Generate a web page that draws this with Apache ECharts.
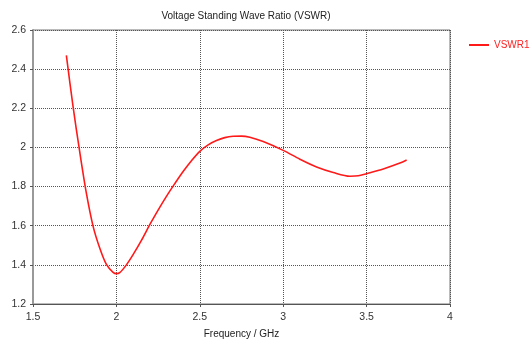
<!DOCTYPE html>
<html>
<head>
<meta charset="utf-8">
<script src="https://cdn.jsdelivr.net/npm/echarts@6/dist/echarts.min.js"></script>
<style>
  html, body { margin: 0; padding: 0; background: #fff; }
  #chart { width: 530px; height: 341px; }
</style>
</head>
<body>
<div id="chart"></div>
<script>
  // frequency (GHz) and VSWR
  var freq = [1.70, 1.74, 1.78, 1.82, 1.86, 1.90, 1.94, 1.98, 2.00, 2.02, 2.06, 2.10, 2.15, 2.20, 2.25, 2.30,
    2.35, 2.40, 2.45, 2.50, 2.55, 2.60, 2.65, 2.70, 2.75, 2.80, 2.88, 3.00, 3.10, 3.20, 3.30, 3.40, 3.45,
    3.50, 3.60, 3.70, 3.74];
  var vswr = [2.47, 2.21, 1.978, 1.766, 1.598, 1.486, 1.402, 1.362, 1.355, 1.36, 1.40, 1.452, 1.525, 1.605, 1.68, 1.75,
    1.815, 1.877, 1.932, 1.98, 2.013, 2.035, 2.05, 2.057, 2.058, 2.052, 2.03, 1.985, 1.94, 1.90, 1.872, 1.853, 1.855,
    1.866, 1.89, 1.92, 1.936];
  var seriesName = 'VSWR1';

  var chart = echarts.init(document.getElementById('chart'));
  var font = 'Liberation Sans';
  var option = {
    animation: false,
    title: {
      text: 'Voltage Standing Wave Ratio (VSWR)',
      left: 241, top: 6, textAlign: 'center',
      textStyle: { fontSize: 10, fontWeight: 'normal', color: '#222', fontFamily: font }
    },
    legend: {
      data: [seriesName],
      left: 463, top: 35,
      itemWidth: 20, itemHeight: 2,
      textStyle: { color: '#ff2020', fontSize: 10, fontFamily: font }
    },
    grid: {
      left: 33, right: 80, top: 30, bottom: 37,
      outerBoundsMode: 'none',
      show: true, borderColor: '#777', borderWidth: 1
    },
    xAxis: {
      type: 'value', min: 1.5, max: 4, interval: 0.5,
      name: 'Frequency / GHz', nameLocation: 'middle', nameGap: 25,
      nameTextStyle: { fontSize: 10, color: '#222', fontFamily: font },
      axisLine: { lineStyle: { color: '#555' } },
      axisTick: { show: true, length: 3, lineStyle: { color: '#555' } },
      axisLabel: { fontSize: 10.5, color: '#333', margin: 8, fontFamily: font },
      splitLine: { lineStyle: { type: 'dotted', color: '#555' } }
    },
    yAxis: {
      type: 'value', min: 1.2, max: 2.6, interval: 0.2,
      axisLine: { show: true, lineStyle: { color: '#999', width: 2 } },
      axisTick: { show: true, length: 3, lineStyle: { color: '#555' } },
      axisLabel: { fontSize: 10.5, color: '#333', margin: 7, fontFamily: font },
      splitLine: { lineStyle: { type: 'dotted', color: '#555' } }
    },
    series: [{
      name: seriesName,
      type: 'line',
      smooth: 0.3,
      symbol: 'none',
      lineStyle: { color: '#ff1a1a', width: 1.6 },
      itemStyle: { color: '#ff1a1a' },
      data: freq.map(function (f, i) { return [f, vswr[i]]; })
    }]
  };
  chart.setOption(option);
</script>
</body>
</html>
